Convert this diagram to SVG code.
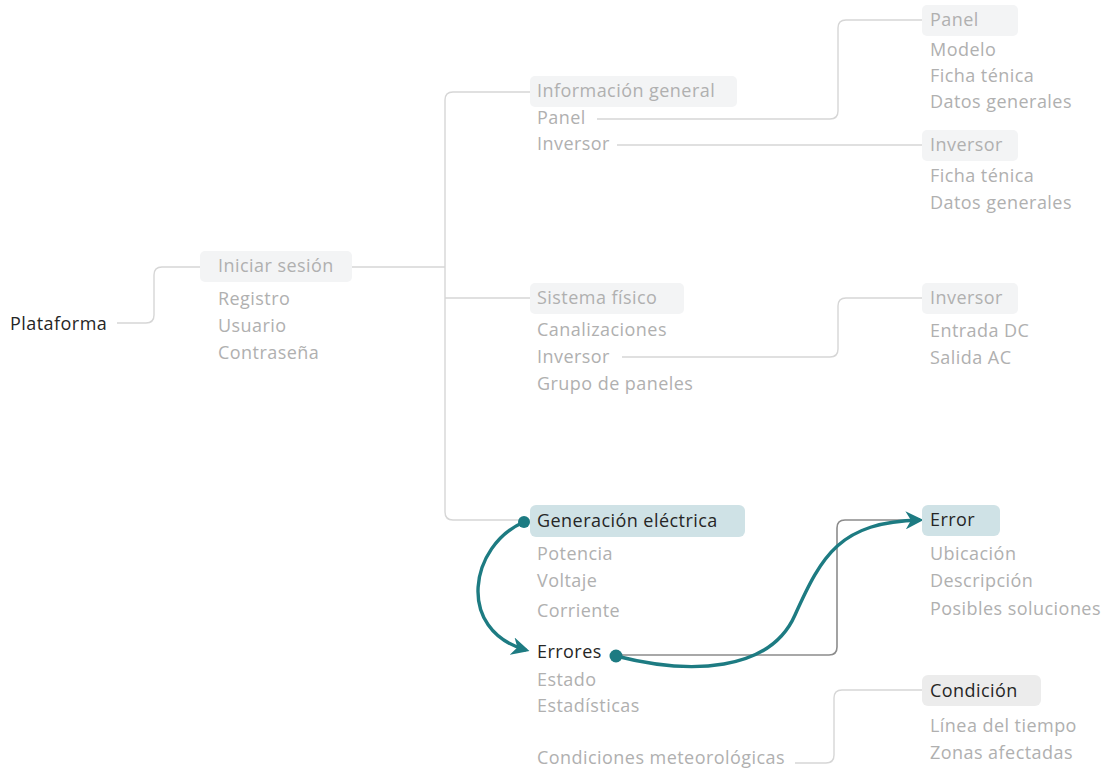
<svg xmlns="http://www.w3.org/2000/svg" width="1108" height="772" viewBox="0 0 1108 772">
  <defs>
    <style>
      text { font-family: "Open Sans", "Noto Sans", sans-serif; font-size: 18px; letter-spacing: 0.45px; fill: #b0b0b0; }
      .dark { fill: #262626; }
      .box { fill: #f3f4f5; }
      .boxTeal { fill: #cfe2e6; }
      .boxGrey { fill: #ececec; }
      .link { fill: none; stroke: #d6d6d6; stroke-width: 1.4; }
      .linkDark { fill: none; stroke: #8c8c8c; stroke-width: 1.6; }
      .flow { fill: none; stroke: #1d7b82; stroke-width: 3.4; }
      .dot { fill: #1d7b82; }
    </style>
    <marker id="headL" viewBox="0 0 10 10" refX="8" refY="5" markerWidth="18" markerHeight="18" orient="auto" markerUnits="userSpaceOnUse">
      <path d="M0,0 L10,5 L0,10 L3,5 Z" fill="#1d7b82"/>
    </marker>
  </defs>

  <g id="connectors">
    <path class="link" d="M117,323 H146 Q154,323 154,315 V275 Q154,267 162,267 H200"/>
    <path class="link" d="M352,267 H445"/>
    <path class="link" d="M530,92 H453 Q445,92 445,100 V512 Q445,520 453,520 H530"/>
    <path class="link" d="M445,298 H530"/>
    <path class="link" d="M597,119 H830 Q838,119 838,111 V28 Q838,20 846,20 H922"/>
    <path class="link" d="M617,145 H922"/>
    <path class="link" d="M622,357 H830 Q838,357 838,349 V306 Q838,298 846,298 H922"/>
    <path class="link" d="M795,763 H826 Q834,763 834,755 V698 Q834,690 842,690 H922"/>
    <path class="linkDark" d="M612,655 H829 Q837,655 837,647 V528 Q837,520 845,520 H922"/>
    <path class="flow" d="M524,522 C470,545 455,630 526,650" marker-end="url(#headL)"/>
    <path class="flow" d="M616,656 C690,675 770,672 795,615 C822,555 840,522 920,520" marker-end="url(#headL)"/>
    <circle class="dot" cx="524" cy="522" r="6"/>
    <circle class="dot" cx="616" cy="656" r="6.5"/>
  </g>

  <g id="node-plataforma">
    <text class="dark" x="10" y="330">Plataforma</text>
  </g>

  <g id="node-iniciar-sesion">
    <rect class="box" x="200" y="251" width="152" height="31" rx="5"/>
    <text x="218" y="272">Iniciar sesión</text>
    <text x="218" y="305">Registro</text>
    <text x="218" y="332">Usuario</text>
    <text x="218" y="359">Contraseña</text>
  </g>

  <g id="node-informacion-general">
    <rect class="box" x="530" y="76" width="207" height="31" rx="5"/>
    <text x="537" y="97">Información general</text>
    <text x="537" y="124">Panel</text>
    <text x="537" y="150">Inversor</text>
  </g>

  <g id="node-panel">
    <rect class="box" x="922" y="5" width="96" height="31" rx="5"/>
    <text x="930" y="26">Panel</text>
    <text x="930" y="56">Modelo</text>
    <text x="930" y="82">Ficha ténica</text>
    <text x="930" y="108">Datos generales</text>
  </g>

  <g id="node-inversor-info">
    <rect class="box" x="922" y="130" width="96" height="31" rx="5"/>
    <text x="930" y="151">Inversor</text>
    <text x="930" y="182">Ficha ténica</text>
    <text x="930" y="209">Datos generales</text>
  </g>

  <g id="node-sistema-fisico">
    <rect class="box" x="530" y="283" width="154" height="31" rx="5"/>
    <text x="537" y="304">Sistema físico</text>
    <text x="537" y="336">Canalizaciones</text>
    <text x="537" y="363">Inversor</text>
    <text x="537" y="390">Grupo de paneles</text>
  </g>

  <g id="node-inversor-fisico">
    <rect class="box" x="922" y="283" width="96" height="31" rx="5"/>
    <text x="930" y="304">Inversor</text>
    <text x="930" y="337">Entrada DC</text>
    <text x="930" y="364">Salida AC</text>
  </g>

  <g id="node-generacion-electrica">
    <rect class="boxTeal" x="530" y="505" width="215" height="32" rx="6"/>
    <text class="dark" x="537" y="527">Generación eléctrica</text>
    <text x="537" y="560">Potencia</text>
    <text x="537" y="587">Voltaje</text>
    <text x="537" y="617">Corriente</text>
    <text class="dark" x="537" y="658">Errores</text>
    <text x="537" y="686">Estado</text>
    <text x="537" y="712">Estadísticas</text>
    <text x="537" y="764">Condiciones meteorológicas</text>
  </g>

  <g id="node-error">
    <rect class="boxTeal" x="922" y="505" width="78" height="31" rx="6"/>
    <text class="dark" x="930" y="526">Error</text>
    <text x="930" y="560">Ubicación</text>
    <text x="930" y="587">Descripción</text>
    <text x="930" y="615">Posibles soluciones</text>
  </g>

  <g id="node-condicion">
    <rect class="boxGrey" x="922" y="675" width="119" height="31" rx="6"/>
    <text class="dark" x="930" y="697">Condición</text>
    <text x="930" y="732">Línea del tiempo</text>
    <text x="930" y="759">Zonas afectadas</text>
  </g>
</svg>
